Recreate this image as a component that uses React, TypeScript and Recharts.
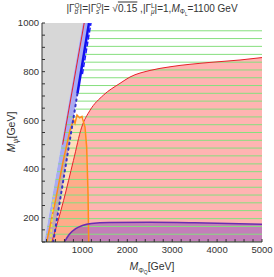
import { Area, ComposedChart, Line, XAxis, YAxis } from 'recharts';

// axis ticks (minor ticks get an empty label)
const xTicks = [200, 400, 600, 800, 1000, 1200, 1400, 1600, 1800, 2000, 2200, 2400, 2600, 2800, 3000, 3200, 3400, 3600, 3800, 4000, 4200, 4400, 4600, 4800, 5000];
const yTicks = [100, 150, 200, 250, 300, 350, 400, 450, 500, 550, 600, 650, 700, 750, 800, 850, 900, 950, 1000];

// contour boundaries, [M_PhiQ, M_psi]
const grayEdge = [[150, 100], [1005, 1000]];
const blueEdge = [[350, 100], [1147, 1000]];
const blueSolid = [[890, 710], [1147, 1000]];
const blueDotted = [[350, 100], [890, 710]];
const blueDashed = [[1000, 790], [1191, 1000]];
const redLeft = [[560, 500], [1040, 1000]];
const redCurve = [[320, 100], [580, 270], [800, 435], [984, 572], [1169, 641], [1465, 703], [1837, 752], [2060, 778], [2505, 805], [2951, 820], [3841, 838], [4510, 848], [5000, 858]];
const orangeCurve = [[205, 100], [400, 270], [574, 435], [724, 559], [770, 585], [800, 605], [835, 588], [880, 622], [940, 610], [990, 616], [1058, 572], [1095, 490], [1125, 300], [1140, 100]];
const purpleCurve = [[600, 100], [700, 130], [850, 155], [1000, 168], [1200, 176], [1600, 180], [2500, 181], [3500, 179], [5000, 173]];
const yellowDashed = [[290, 100], [360, 290]];
const greenLevels = [100, 132, 164, 196, 229, 261, 293, 325, 357, 389, 421, 454, 486, 518, 550, 582, 614, 646, 679, 711, 743, 775, 807, 839, 871, 904, 936, 968];

const Y_MIN = 100;
const Y_MAX = 1000;
const X_MAX = 5000;

const clampY = (v: number) => Math.min(Y_MAX, Math.max(Y_MIN, v));

// straight line through two points
const lineY = (edge: number[][], x: number) => {
  const [[x0, y0], [x1, y1]] = edge;
  return y0 + ((x - x0) * (y1 - y0)) / (x1 - x0);
};
const lineX = (edge: number[][], y: number) => {
  const [[x0, y0], [x1, y1]] = edge;
  return x0 + ((y - y0) * (x1 - x0)) / (y1 - y0);
};

const toLine = (pts: number[][]) => pts.map(([x, y]) => ({ x, y }));
const underCurve = (pts: number[][]) => pts.map(([x, y]) => ({ x, r: [Y_MIN, y] }));

const grayData = [100, grayEdge[0][0], grayEdge[1][0]].map((x) => ({
  x,
  r: [clampY(lineY(grayEdge, x)), Y_MAX],
}));

const bandData = [grayEdge[0][0], blueEdge[0][0], grayEdge[1][0], blueEdge[1][0]].map((x) => ({
  x,
  r: [clampY(lineY(blueEdge, x)), clampY(lineY(grayEdge, x))],
}));

// hatching starts at the blue line in the upper part, at the grey edge below
const greenLines = greenLevels.map((y) => {
  const start = y >= 620 ? lineX(blueEdge, y) + 20 : lineX(grayEdge, y) + 10;
  return [
    { x: start, y },
    { x: X_MAX, y },
  ];
});

const FONT = 'Liberation Sans, Arial, sans-serif';

export default function App() {
  return (
    <div style={{ position: 'absolute', left: 0, top: 0, width: 274, height: 277, background: '#fff' }}>
      <ComposedChart width={274} height={277} margin={{ top: 23, right: 12, bottom: 0, left: 0 }}>
        <XAxis
          type="number"
          dataKey="x"
          domain={[100, X_MAX]}
          allowDataOverflow
          ticks={xTicks}
          interval={0}
          height={35}
          tickSize={-3}
          tickMargin={7}
          tickFormatter={(v: number) => (v % 1000 === 0 ? String(v) : '')}
          tick={{ fontSize: 9.5, fill: '#333', fontFamily: FONT }}
          axisLine={{ stroke: '#333' }}
          tickLine={{ stroke: '#333' }}
        />
        <YAxis
          type="number"
          domain={[Y_MIN, Y_MAX]}
          allowDataOverflow
          ticks={yTicks}
          interval={0}
          width={42}
          tickSize={-3}
          tickMargin={6}
          tickFormatter={(v: number) => (v % 200 === 0 ? String(v) : '')}
          tick={{ fontSize: 9.5, fill: '#333', fontFamily: FONT }}
          axisLine={{ stroke: '#333' }}
          tickLine={{ stroke: '#333' }}
        />
        <XAxis xAxisId="top" orientation="top" type="number" domain={[100, X_MAX]} height={0} tick={false} tickLine={false} axisLine={{ stroke: '#333' }} />
        <YAxis yAxisId="right" orientation="right" type="number" domain={[Y_MIN, Y_MAX]} width={0} tick={false} tickLine={false} axisLine={{ stroke: '#333' }} />

        <Area data={grayData} dataKey="r" type="linear" fill="#d7d7d7" fillOpacity={1} stroke="none" isAnimationActive={false} />
        <Area data={bandData} dataKey="r" type="linear" fill="#a9acf2" fillOpacity={1} stroke="none" isAnimationActive={false} />
        <Area data={underCurve(redCurve)} dataKey="r" type="monotone" fill="#ffb4b2" fillOpacity={1} stroke="none" isAnimationActive={false} />
        <Area data={underCurve(orangeCurve)} dataKey="r" type="linear" fill="#ff9f40" fillOpacity={0.35} stroke="none" isAnimationActive={false} />
        <Area data={underCurve(purpleCurve)} dataKey="r" type="monotone" fill="#7b3fc0" fillOpacity={0.45} stroke="none" isAnimationActive={false} />

        {greenLines.map((d, i) => (
          <Line key={`g${i}`} data={d} dataKey="y" type="linear" stroke="#86df7e" strokeWidth={1} dot={false} isAnimationActive={false} />
        ))}

        <Line data={toLine(redCurve)} dataKey="y" type="monotone" stroke="#e8202a" strokeWidth={1} dot={false} isAnimationActive={false} />
        <Line data={toLine(redLeft)} dataKey="y" type="linear" stroke="#e8202a" strokeWidth={1} dot={false} isAnimationActive={false} />
        <Line data={toLine(orangeCurve)} dataKey="y" type="linear" stroke="#ff8c1a" strokeWidth={1.5} dot={false} isAnimationActive={false} />
        <Line data={toLine(purpleCurve)} dataKey="y" type="monotone" stroke="#6a2db0" strokeWidth={1.5} dot={false} isAnimationActive={false} />
        <Line data={toLine(blueSolid)} dataKey="y" type="linear" stroke="#1010ee" strokeWidth={2.5} dot={false} isAnimationActive={false} />
        <Line data={toLine(blueDotted)} dataKey="y" type="linear" stroke="#3535c8" strokeWidth={2} strokeDasharray="1.5 4" strokeLinecap="round" dot={false} isAnimationActive={false} />
        <Line data={toLine(blueDashed)} dataKey="y" type="linear" stroke="#1a1aff" strokeWidth={1.5} strokeDasharray="5 2" dot={false} isAnimationActive={false} />
        <Line data={toLine(yellowDashed)} dataKey="y" type="linear" stroke="#f0e040" strokeWidth={1.5} strokeDasharray="3 2" dot={false} isAnimationActive={false} />
      </ComposedChart>

      <svg width={274} height={277} style={{ position: 'absolute', left: 0, top: 0, pointerEvents: 'none' }} fontFamily={FONT} fill="#333">
        <text x={152} y={11.5} textAnchor="middle" fontSize={10}>
          |Γ
          <tspan fontSize={6.5} dy={-3.5}>Q</tspan>
          <tspan fontSize={6.5} fontStyle="italic" dx={-5.1} dy={6}>b</tspan>
          <tspan dx={1.5} dy={-2.5}>|=|Γ</tspan>
          <tspan fontSize={6.5} dy={-3.5}>Q</tspan>
          <tspan fontSize={6.5} fontStyle="italic" dx={-5.1} dy={6}>s</tspan>
          <tspan dx={1.8} dy={-2.5}>|= √</tspan>
          <tspan style={{ textDecoration: 'overline' }}>0.15</tspan>
          <tspan> ,|Γ</tspan>
          <tspan fontSize={6.5} dy={-3.5}>L</tspan>
          <tspan fontSize={6.5} fontStyle="italic" dx={-3.6} dy={6}>μ</tspan>
          <tspan dy={-2.5}>|=1,</tspan>
          <tspan fontStyle="italic">M</tspan>
          <tspan fontSize={6.5} dy={2.5}>Φ</tspan>
          <tspan fontSize={4.5} dy={1.5}>L</tspan>
          <tspan fontSize={10} dy={-4}>=1100 GeV</tspan>
        </text>
        <text x={152} y={270} textAnchor="middle" fontSize={10.5}>
          <tspan fontStyle="italic">M</tspan>
          <tspan fontSize={7} dy={2.5}>Φ</tspan>
          <tspan fontSize={5} dy={1.5}>Q</tspan>
          <tspan fontSize={10.5} dy={-4}>[GeV]</tspan>
        </text>
        <text x={15} y={132} textAnchor="middle" fontSize={10.5} transform="rotate(-90 15 132)">
          <tspan fontStyle="italic">M</tspan>
          <tspan fontSize={7} fontStyle="italic" dy={2.5}>ψ</tspan>
          <tspan fontSize={10.5} dy={-2.5}>[GeV]</tspan>
        </text>
      </svg>
    </div>
  );
}
